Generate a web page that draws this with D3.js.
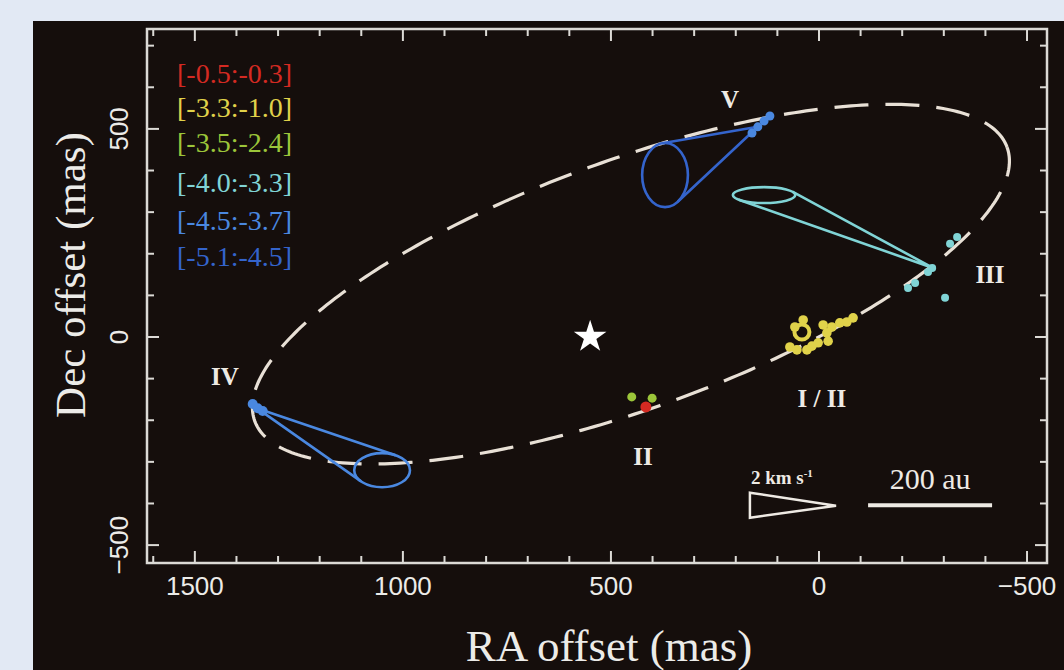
<!DOCTYPE html>
<html>
<head>
<meta charset="utf-8">
<script src="https://cdn.jsdelivr.net/npm/d3@7"></script>
<style>
  html, body { margin: 0; padding: 0; background: #e2e9f4; }
  svg { display: block; }
</style>
</head>
<body>
<svg id="chart" width="1064" height="670"></svg>
<script>
// ---- Legend: LSR velocity ranges (km/s) and their colours ----
const legendLabels = ["[-0.5:-0.3]", "[-3.3:-1.0]", "[-3.5:-2.4]", "[-4.0:-3.3]", "[-4.5:-3.7]", "[-5.1:-4.5]"];
const legendColors = ["#d42a22", "#e0d24a", "#9cc63a", "#80d4d6", "#4a88e0", "#3464cc"];

// ---- Axis ticks (mas) ----
const xTickLabels = [1500, 1000, 500, 0, -500];
const yTickLabels = [-500, 0, 500];

// ---- Maser spots: [RA offset, Dec offset] in mas ----
const spotsRed    = [[416, -168]];
const spotsGreen  = [[450, -144], [401, -147]];
const spotsYellow = [[70, -24], [53, -31], [29, -31], [17, -22], [2, -14], [-22, -10], [-19, 10],
                     [-10, 29], [-31, 24], [-50, 34], [-67, 36], [-82, 46], [38, 41], [58, 24]];
const ringYellow  = [[41, 12]];
const spotsCyan   = [[-332, 240], [-315, 224], [-272, 166], [-262, 156], [-231, 130], [-214, 118], [-303, 94]];
const spotsBlueIV = [[1361, -161], [1349, -171], [1337, -178]];
const spotsBlueV  = [[161, 490], [147, 505], [132, 519], [118, 531]];

// ---- Proper-motion vectors: [start RA, start Dec, end RA, end Dec, err RA, err Dec, legend index] ----
const vectorIV  = [1351, -171, 1050, -320, 67, 41, 4];
const vectorIII = [-274, 166, 132, 341, 75, 19, 3];
const vectorV   = [147, 505, 370, 389, 55, 77, 5];

// ---- Fitted ring: [centre RA, centre Dec, semi-major, semi-minor, tilt (deg)] ----
const ringFit = [452, 127, 962, 298, 20];

// ---- Central star position ----
const starPos = [550, 0];

// ---- Feature labels: [text, RA, Dec] ----
const featureLabels = [["V", 214, 570], ["III", -411, 149], ["I / II", -7, -147], ["II", 423, -286], ["IV", 1428, -94]];

// ---- Keys: velocity arrow (2 km/s) and 200 au bar, in mas ----
const velocityKey = [166, -403, -41];     // left RA, Dec, tip RA
const lengthKey   = [-118, -404, 298];    // left RA, Dec, length (mas)

const W = 1064, H = 670;
const svg = d3.select("#chart");

// dark figure panel
svg.append("rect").attr("x", 33).attr("y", 21).attr("width", W - 33).attr("height", H - 21)
  .attr("fill", "#150e0c");

const plot = { left: 147, right: 1047, top: 29, bottom: 563 };
const x = d3.scaleLinear().domain([1615, -548]).range([plot.left, plot.right]);
const y = d3.scaleLinear().domain([-543, 740]).range([plot.bottom, plot.top]);

const frameColor = "#dcdad6";
const serif = "'Liberation Serif', 'Times New Roman', serif";
const sans = "'Liberation Sans', Arial, sans-serif";

// ---- Ticks (inward, on all four sides) ----
const xMinor = d3.range(-500, 1601, 100);
const yMinor = d3.range(-500, 701, 100);
const tickLen = v => (v % 500 === 0 ? 12 : 7);

const ticks = svg.append("g").attr("stroke", frameColor).attr("stroke-width", 2);
xMinor.forEach(v => {
  ticks.append("line").attr("x1", x(v)).attr("x2", x(v)).attr("y1", plot.bottom).attr("y2", plot.bottom - tickLen(v));
  ticks.append("line").attr("x1", x(v)).attr("x2", x(v)).attr("y1", plot.top).attr("y2", plot.top + tickLen(v));
});
yMinor.forEach(v => {
  ticks.append("line").attr("y1", y(v)).attr("y2", y(v)).attr("x1", plot.left).attr("x2", plot.left + tickLen(v));
  ticks.append("line").attr("y1", y(v)).attr("y2", y(v)).attr("x1", plot.right).attr("x2", plot.right - tickLen(v));
});

svg.append("rect")
  .attr("x", plot.left).attr("y", plot.top)
  .attr("width", plot.right - plot.left).attr("height", plot.bottom - plot.top)
  .attr("fill", "none").attr("stroke", frameColor).attr("stroke-width", 2.5);

// tick labels
const fmt = v => (v < 0 ? "\u2212" + Math.abs(v) : String(v));
svg.append("g").selectAll("text").data(xTickLabels).join("text")
  .attr("x", d => x(d)).attr("y", 595)
  .attr("text-anchor", "middle")
  .attr("font-family", sans).attr("font-size", 26).attr("fill", "#ecebe8")
  .text(fmt);

svg.append("g").selectAll("text").data(yTickLabels).join("text")
  .attr("transform", d => `translate(128,${y(d)}) rotate(-90)`)
  .attr("text-anchor", "middle")
  .attr("font-family", sans).attr("font-size", 26).attr("fill", "#ecebe8")
  .text(fmt);

// axis titles
svg.append("text").attr("x", 609).attr("y", 661).attr("text-anchor", "middle")
  .attr("font-family", serif).attr("font-size", 45).attr("fill", "#ecebe8")
  .text("RA offset (mas)");
svg.append("text").attr("transform", "translate(85,275) rotate(-90)").attr("text-anchor", "middle")
  .attr("font-family", serif).attr("font-size", 43).attr("fill", "#ecebe8")
  .text("Dec offset (mas)");

// ---- Dashed ring ----
const [cRA, cDec, semiA, semiB, tiltDeg] = ringFit;
const tilt = tiltDeg * Math.PI / 180;
const uDir = [-Math.cos(tilt), Math.sin(tilt)];   // major axis (towards lower RA, higher Dec)
const vDir = [Math.sin(tilt), Math.cos(tilt)];    // minor axis
const ringPts = d3.range(0, 361, 1).map(deg => {
  const t = deg * Math.PI / 180;
  return [cRA + semiA * Math.cos(t) * uDir[0] + semiB * Math.sin(t) * vDir[0],
          cDec + semiA * Math.cos(t) * uDir[1] + semiB * Math.sin(t) * vDir[1]];
});
svg.append("path")
  .attr("d", d3.line().x(d => x(d[0])).y(d => y(d[1]))(ringPts))
  .attr("fill", "none").attr("stroke", "#e8e0d6").attr("stroke-width", 3.2)
  .attr("stroke-dasharray", "34 17");

// ---- Proper-motion cones ----
function drawCone(v) {
  const [sRA, sDec, eRA, eDec, errRA, errDec, ci] = v;
  const col = legendColors[ci];
  const ax = x(sRA), ay = y(sDec);
  const cx = x(eRA), cy = y(eDec);
  const rx = Math.abs(x(eRA + errRA) - cx), ry = Math.abs(y(eDec + errDec) - cy);
  const px = (ax - cx) / rx, py = (ay - cy) / ry;
  const d = Math.hypot(px, py);
  const base = Math.atan2(py, px), off = Math.acos(1 / d);
  const t1 = [cx + rx * Math.cos(base + off), cy + ry * Math.sin(base + off)];
  const t2 = [cx + rx * Math.cos(base - off), cy + ry * Math.sin(base - off)];
  svg.append("path")
    .attr("d", `M${t1[0]},${t1[1]}L${ax},${ay}L${t2[0]},${t2[1]}`)
    .attr("fill", "none").attr("stroke", col).attr("stroke-width", 2.6).attr("stroke-linejoin", "round");
  svg.append("ellipse").attr("cx", cx).attr("cy", cy).attr("rx", rx).attr("ry", ry)
    .attr("fill", "none").attr("stroke", col).attr("stroke-width", 2.6);
}
[vectorIV, vectorIII, vectorV].forEach(drawCone);

// ---- Maser spots ----
function drawSpots(list, color, r) {
  svg.append("g").selectAll("circle").data(list).join("circle")
    .attr("cx", d => x(d[0])).attr("cy", d => y(d[1])).attr("r", r)
    .attr("fill", color);
}
drawSpots(spotsGreen, legendColors[2], 4.5);
drawSpots(spotsRed, legendColors[0], 5.5);
drawSpots(spotsYellow, legendColors[1], 4.8);
drawSpots(spotsCyan, legendColors[3], 4);
drawSpots(spotsBlueIV, legendColors[4], 5);
drawSpots(spotsBlueV, legendColors[4], 4.5);
svg.append("g").selectAll("circle").data(ringYellow).join("circle")
  .attr("cx", d => x(d[0])).attr("cy", d => y(d[1])).attr("r", 7.5)
  .attr("fill", "none").attr("stroke", legendColors[1]).attr("stroke-width", 4);

// ---- Central star ----
const star = d3.symbol().type(d3.symbolStar).size(330);
svg.append("path").attr("d", star())
  .attr("transform", `translate(${x(starPos[0])},${y(starPos[1])})`)
  .attr("fill", "#ffffff");

// ---- Feature labels ----
svg.append("g").selectAll("text").data(featureLabels).join("text")
  .attr("x", d => x(d[1])).attr("y", d => y(d[2]))
  .attr("text-anchor", "middle").attr("dominant-baseline", "central")
  .attr("font-family", serif).attr("font-size", 25).attr("font-weight", "bold").attr("fill", "#eeeae4")
  .text(d => d[0]);

// ---- Legend ----
const legendY = [73, 107, 142, 182, 220, 256];
svg.append("g").selectAll("text").data(legendLabels).join("text")
  .attr("x", 177).attr("y", (d, i) => legendY[i] + 10)
  .attr("font-family", serif).attr("font-size", 28)
  .attr("fill", (d, i) => legendColors[i])
  .text(d => d);

// ---- Velocity key (2 km/s) ----
const [vkRA, vkDec, vkTip] = velocityKey;
const vx0 = x(vkRA), vy0 = y(vkDec), vx1 = x(vkTip);
svg.append("path")
  .attr("d", `M${vx0},${vy0 - 12}L${vx1},${vy0 + 1}L${vx0},${vy0 + 13}Z`)
  .attr("fill", "none").attr("stroke", "#eeeae4").attr("stroke-width", 2.5);
const vkText = svg.append("text").attr("x", vx0 + 1).attr("y", vy0 - 21)
  .attr("font-family", serif).attr("font-size", 19).attr("font-weight", "bold").attr("fill", "#eeeae4");
vkText.append("tspan").text("2 km s");
vkText.append("tspan").attr("dy", -7).attr("font-size", 11).text("-1");

// ---- Length key (200 au) ----
const [lkRA, lkDec, lkLen] = lengthKey;
svg.append("line")
  .attr("x1", x(lkRA)).attr("x2", x(lkRA - lkLen)).attr("y1", y(lkDec)).attr("y2", y(lkDec))
  .attr("stroke", "#eeeae4").attr("stroke-width", 4);
svg.append("text").attr("x", (x(lkRA) + x(lkRA - lkLen)) / 2).attr("y", y(lkDec) - 16)
  .attr("text-anchor", "middle")
  .attr("font-family", serif).attr("font-size", 30).attr("fill", "#eeeae4")
  .text("200 au");
</script>
</body>
</html>
